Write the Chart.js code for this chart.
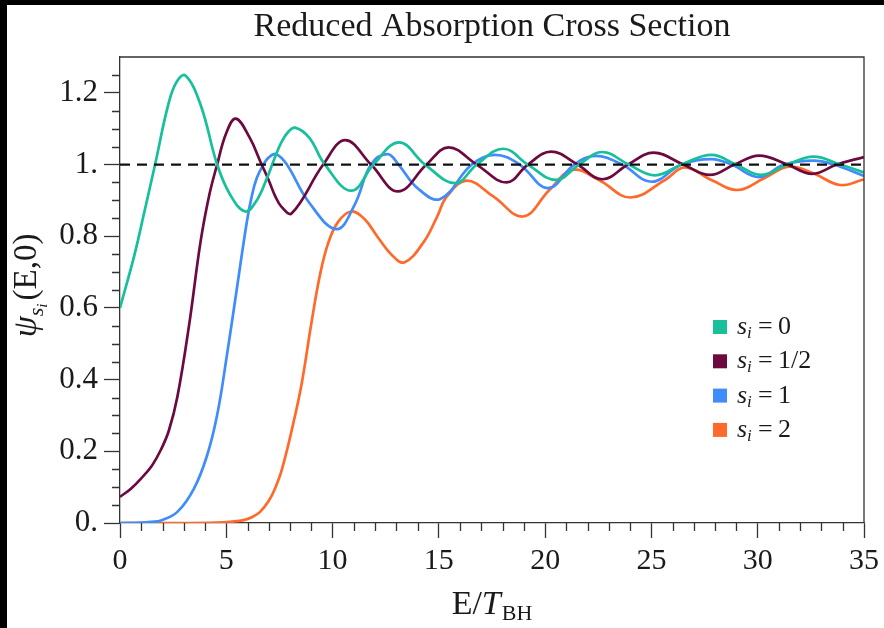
<!DOCTYPE html>
<html><head><meta charset="utf-8">
<script src="https://cdn.jsdelivr.net/npm/chart.js@4/dist/chart.umd.min.js"></script>
<style>html,body{margin:0;padding:0;background:#fff;}canvas{display:block;}</style>
</head><body><canvas id="c" width="884" height="628"></canvas>
<script>
const titleText = 'Reduced Absorption Cross Section';
const spinLabels = ['0', '1/2', '1', '2'];
const seriesColors = ['#17bf9a', '#6c0a3f', '#3f8cfa', '#ff6a2b'];

const E_s0 = [0,0.68,1.15,1.65,2.24,2.63,3.06,3.79,4.57,5.19,5.89,6.4,6.9,7.3,7.6,7.9,8.24,8.9,9.64,10.88,11.93,13.13,14.35,15.77,16.78,18.03,19.19,20.51,21.6,22.69,23.93,25.17,26.42,27.82,28.98,30.15,31.39,32.63,33.88,35];
const psi_s0 = [0.6,0.748,0.869,1.0,1.16,1.227,1.249,1.167,1.0,0.915,0.869,0.897,0.96,1.022,1.063,1.09,1.103,1.075,1.0,0.927,1.0,1.062,1.0,0.948,1.0,1.044,1.0,0.957,1.0,1.035,1.0,0.97,1.0,1.027,1.0,0.971,1.0,1.022,1.0,0.978];

const E_s12 = [0,0.5,0.99,1.5,1.93,2.3,2.7,3.25,3.79,4.2,4.57,5.0,5.45,6.1,6.59,6.99,7.3,7.6,8.08,9.56,10.6,11.81,13.08,14.42,15.46,16.78,18.18,19.19,20.28,21.52,22.69,23.9,25.1,26.5,27.75,28.9,30.07,31.39,32.56,33.72,35];
const psi_s12 = [0.073,0.095,0.124,0.16,0.205,0.258,0.352,0.552,0.785,0.915,1.0,1.088,1.128,1.075,1.01,0.957,0.912,0.882,0.864,1.0,1.068,1.0,0.925,1.0,1.048,1.0,0.95,1.0,1.036,1.0,0.959,1.0,1.033,1.0,0.971,1.0,1.025,1.0,0.974,1.0,1.021];

const E_s1 = [0,1.0,1.46,1.93,2.7,3.48,4.1,4.57,5.03,5.5,5.97,6.2,6.43,6.75,7.0,7.35,7.85,8.86,10.18,11.03,11.81,12.59,13.1,14.0,15.07,16.55,17.64,18.8,20.13,21.37,22.38,23.62,25.0,26.42,27.82,28.76,30.07,31.24,32.63,33.57,35];
const psi_s1 = [0,0.001,0.003,0.007,0.031,0.096,0.189,0.301,0.468,0.655,0.841,0.912,0.962,1.0,1.02,1.029,1.0,0.897,0.82,0.887,1.0,1.029,1.0,0.934,0.904,1.0,1.027,1.0,0.934,1.0,1.024,1.0,0.952,1.0,1.015,1.0,0.965,1.0,1.011,1.0,0.968];

const E_s2 = [0,3.0,4.5,5.3,5.81,6.2,6.59,7.0,7.3,7.62,8.16,8.55,9.01,9.4,9.79,10.26,10.88,11.5,12.12,12.75,13.37,14.3,14.92,15.38,16.32,17.56,18.96,20.2,21.29,22.53,24.01,25.64,26.57,27.82,29.06,30.3,31.47,32.63,33.88,35];
const psi_s2 = [0,0,0.001,0.004,0.008,0.016,0.031,0.062,0.097,0.15,0.28,0.39,0.56,0.69,0.78,0.84,0.869,0.848,0.798,0.75,0.727,0.785,0.855,0.911,0.955,0.911,0.855,0.929,0.985,0.957,0.908,0.957,0.992,0.957,0.929,0.962,0.994,0.975,0.943,0.959];

const refE = [0, 35];
const refPsi = [1, 1];

const xTickValues = [0, 5, 10, 15, 20, 25, 30, 35];
const yTickValues = [0, 0.2, 0.4, 0.6, 0.8, 1.0, 1.2];
const yTickLabels = ['0.', '0.2', '0.4', '0.6', '0.8', '1.', '1.2'];
const xMinorStep = 1;
const yMinorStep = 0.05;

const SERIF = '"Liberation Serif", "DejaVu Serif", serif';
const pts = (xs, ys) => xs.map((x, i) => ({x: x, y: ys[i]}));

const curveSets = [[E_s0, psi_s0], [E_s12, psi_s12], [E_s1, psi_s1], [E_s2, psi_s2]];
const datasets = curveSets.map((s, i) => ({
  label: 's_i = ' + spinLabels[i],
  data: pts(s[0], s[1]),
  borderColor: seriesColors[i],
  backgroundColor: seriesColors[i],
  borderWidth: 2.7,
  pointRadius: 0,
  tension: 0.4,
  order: 1 + i
}));
datasets.push({
  label: 'ref',
  data: pts(refE, refPsi),
  borderColor: '#111',
  borderWidth: 2.2,
  borderDash: [10, 7],
  pointRadius: 0,
  order: 0
});

const decor = {
  id: 'decor',
  afterDraw(chart) {
    const ctx = chart.ctx, ca = chart.chartArea;
    const xs = chart.scales.x, ys = chart.scales.y;
    ctx.save();
    ctx.strokeStyle = '#333'; ctx.lineWidth = 1.3;
    ctx.beginPath();
    ctx.moveTo(ca.left, ca.top); ctx.lineTo(ca.right, ca.top); ctx.lineTo(ca.right, ca.bottom);
    ctx.stroke();
    ctx.beginPath();
    for (let v = xs.min; v <= xs.max + 1e-9; v += xMinorStep) {
      if (xTickValues.some(t => Math.abs(t - v) < 1e-6)) continue;
      const px = Math.round(xs.getPixelForValue(v)) + 0.5;
      ctx.moveTo(px, ca.bottom); ctx.lineTo(px, ca.bottom + 8);
    }
    for (let k = 0; k * yMinorStep <= ys.max - 1e-6; k++) {
      const v = k * yMinorStep;
      if (yTickValues.some(t => Math.abs(t - v) < 1e-6)) continue;
      const py = Math.round(ys.getPixelForValue(v)) + 0.5;
      ctx.moveTo(ca.left - 8, py); ctx.lineTo(ca.left, py);
    }
    ctx.stroke();

    ctx.fillStyle = '#1a1a1a';
    ctx.font = '34px ' + SERIF;
    ctx.textAlign = 'center'; ctx.textBaseline = 'alphabetic';
    ctx.fillText(titleText, (ca.left + ca.right) / 2, 36);

    ctx.textAlign = 'left';
    const f1 = '34px ' + SERIF, f1i = 'italic 34px ' + SERIF, fs = '22px ' + SERIF;
    ctx.font = f1; const wE = ctx.measureText('E/').width;
    ctx.font = f1i; const wT = ctx.measureText('T').width;
    ctx.font = fs; const wB = ctx.measureText('BH').width;
    const tot = wE + wT + 1 + wB;
    let x0 = (ca.left + ca.right) / 2 - tot / 2;
    const bx = 614;
    ctx.font = f1; ctx.fillText('E/', x0, bx);
    ctx.font = f1i; ctx.fillText('T', x0 + wE, bx);
    ctx.font = fs; ctx.fillText('BH', x0 + wE + wT + 1, bx + 6);

    ctx.save();
    ctx.translate(36, 286);
    ctx.rotate(-Math.PI / 2);
    const g1 = 'italic 34px ' + SERIF, g2 = 'italic 22px ' + SERIF, g3 = 'italic 15px ' + SERIF, g4 = '33px ' + SERIF;
    ctx.font = g1; const wpsi = ctx.measureText('\u03C8').width;
    ctx.font = g2; const ws = ctx.measureText('s').width;
    ctx.font = g3; const wi = ctx.measureText('i').width;
    ctx.font = g4; const wp = ctx.measureText('(E,0)').width;
    const ytot = wpsi + ws + wi + 2 + wp;
    let yx = -ytot / 2;
    ctx.font = g1; ctx.fillText('\u03C8', yx, 0); yx += wpsi;
    ctx.font = g2; ctx.fillText('s', yx, 7); yx += ws;
    ctx.font = g3; ctx.fillText('i', yx, 11); yx += wi + 3;
    ctx.font = g4; ctx.fillText('(E,0)', yx, 0);
    ctx.restore();

    const lx = 713, ly0 = 327, ldy = 34.3;
    chart.data.datasets.forEach((d, i) => {
      if (i >= spinLabels.length) return;
      const cy = ly0 + i * ldy;
      ctx.fillStyle = d.borderColor;
      ctx.fillRect(lx, cy - 7, 14, 14);
      ctx.fillStyle = '#1a1a1a';
      ctx.font = 'italic 26px ' + SERIF;
      ctx.fillText('s', lx + 24, cy + 7);
      const wss = ctx.measureText('s').width;
      ctx.font = 'italic 17px ' + SERIF;
      ctx.fillText('i', lx + 24 + wss, cy + 11);
      ctx.font = '26px ' + SERIF;
      ctx.fillText('=', lx + 45, cy + 7);
      ctx.fillText(spinLabels[i], lx + 65, cy + 7);
    });

    ctx.fillStyle = '#000';
    ctx.fillRect(0, 0, 884, 5);
    ctx.fillRect(0, 0, 7, 628);
    ctx.restore();
  }
};

new Chart(document.getElementById('c'), {
  type: 'line',
  data: { datasets: datasets },
  options: {
    responsive: false,
    animation: false,
    devicePixelRatio: 1,
    layout: { padding: { left: 0, top: 57, right: 13, bottom: 0 } },
    plugins: { legend: { display: false }, tooltip: { enabled: false } },
    scales: {
      x: {
        type: 'linear', min: 0, max: 35,
        afterBuildTicks: s => { s.ticks = xTickValues.map(v => ({ value: v })); },
        afterFit: s => { s.height = 105; },
        ticks: { font: { family: SERIF, size: 30 }, color: '#1a1a1a', padding: 5, maxRotation: 0, autoSkip: false },
        grid: { drawOnChartArea: false, tickLength: 15, tickColor: '#333', tickWidth: 1.3 },
        border: { color: '#333', width: 1.3 }
      },
      y: {
        type: 'linear', min: 0, max: 1.3,
        afterBuildTicks: s => { s.ticks = yTickValues.map(v => ({ value: v })); },
        afterFit: s => { s.width = 120; },
        ticks: {
          font: { family: SERIF, size: 31 }, color: '#1a1a1a', padding: 6, autoSkip: false,
          callback: (v) => { const k = yTickValues.findIndex(t => Math.abs(t - v) < 1e-6); return k >= 0 ? yTickLabels[k] : ''; }
        },
        grid: { drawOnChartArea: false, tickLength: 16, tickColor: '#333', tickWidth: 1.3 },
        border: { color: '#333', width: 1.3 }
      }
    }
  },
  plugins: [decor]
});
</script></body></html>
